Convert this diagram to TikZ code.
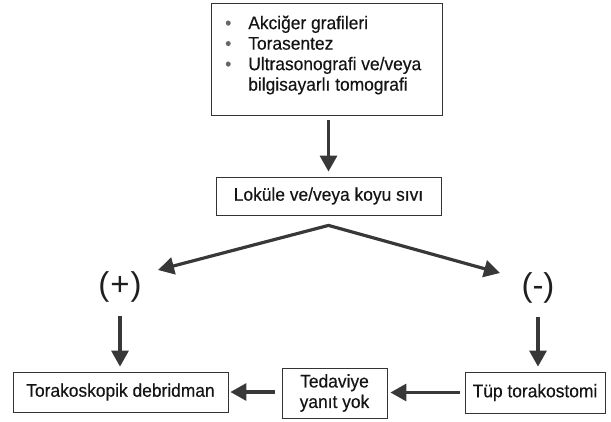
\documentclass[tikz,border=0pt]{standalone}
\usepackage{fontspec}
\setmainfont{Liberation Sans}[FakeStretch=0.95, FakeBold=0.35]
\newfontfamily\signfont{Liberation Sans}
\usetikzlibrary{arrows.meta,calc}
\begin{document}
\begin{tikzpicture}[x=1pt,y=-1pt,
  >={Triangle[width=17pt,length=16pt]},
  txt/.style={font=\fontsize{18.3}{20.5}\selectfont, text=black!92},
  box/.style={draw=black!80, line width=0.8pt, inner sep=0pt, txt},
  arr/.style={draw=black!78, line width=3.2pt, ->},
  sign/.style={font=\signfont\fontsize{33}{33}\selectfont, inner sep=0pt, text=black!88}]
\useasboundingbox (0,0) rectangle (611,421);

\node[box, minimum width=231pt, minimum height=112pt] (top) at (326.5,59) {};
\node[anchor=north west, inner sep=0pt, txt] (list) at (225,14.6)
  {\begin{tabular}{@{}c@{\hspace{17pt}}l@{}}
   {\color{black!60}\textbullet} & Akciğer grafileri\\
   {\color{black!60}\textbullet} & Torasentez\\
   {\color{black!60}\textbullet} & Ultrasonografi ve/veya\\
    & bilgisayarlı tomografi
   \end{tabular}};

\node[box, minimum width=225pt, minimum height=38pt] (loc) at (328.5,196) {Loküle ve/veya koyu sıvı};
\node[sign] (plus) at (120,287) {(\kern1pt+\kern1pt)};
\node[sign] (minus) at (538,288) {(-)};
\node[box, minimum width=215pt, minimum height=40pt] (tor) at (120.5,392) {Torakoskopik debridman};
\node[box, minimum width=105pt, minimum height=50pt, align=center] (ted) at (334.5,393) {Tedaviye\\yanıt yok};
\node[box, minimum width=140pt, minimum height=41pt] (tup) at (535,392.5) {Tüp torakostomi};

\draw[arr, shorten <=5pt, shorten >=5pt] (loc.north |- top.south) -- (loc.north);
\coordinate (apex) at ($(loc.south)+(0,10)$);
\coordinate (ptip) at ($(plus.center)+(38,-17)$);
\coordinate (mtip) at ($(minus.center)+(-38,-15)$);
\draw[arr, <->, line join=miter] (ptip) -- (apex) -- (mtip);
\draw[arr, shorten <=13pt, shorten >=5pt] (plus.south) -- (plus.south |- tor.north);
\draw[arr, shorten <=13pt, shorten >=5pt] (minus.south) -- (minus.south |- tup.north);
\draw[arr, shorten <=5pt, shorten >=3pt] (tup.west) -- (tup.west -| ted.east);
\draw[arr, shorten <=7pt, shorten >=2pt] (ted.west |- tor.east) -- (tor.east);
\end{tikzpicture}
\end{document}
